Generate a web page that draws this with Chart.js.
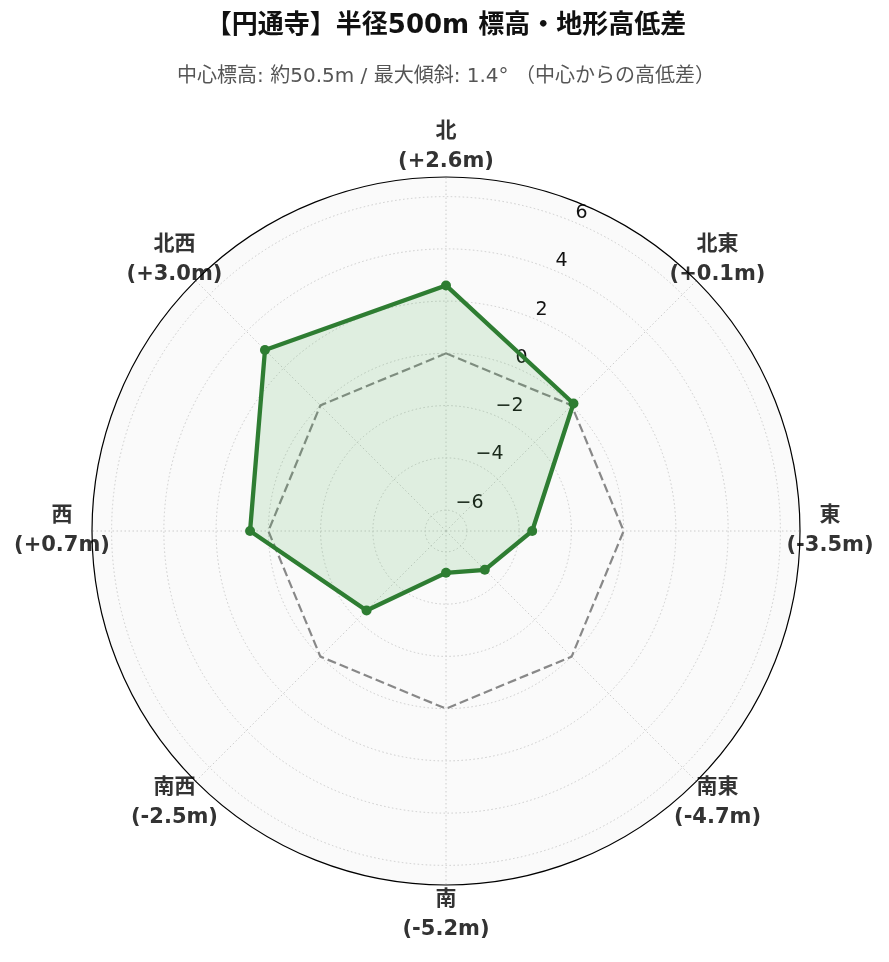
<!DOCTYPE html>
<html lang="ja">
<head>
<meta charset="utf-8">
<title>円通寺 標高・地形高低差</title>
<script src="https://cdn.jsdelivr.net/npm/chart.js@4.4.1/dist/chart.umd.min.js"></script>
<style>
  html, body { margin: 0; padding: 0; background: #fff; }
  #chart { display: block; }
</style>
</head>
<body>
<canvas id="chart" width="889" height="962"></canvas>
<script>
// 方位ごとの高低差（中心からの差, m）
const directions = ['北', '北東', '東', '南東', '南', '南西', '西', '北西'];
const elevationDiff = [2.6, 0.1, -3.5, -4.7, -5.2, -2.5, 0.7, 3.0];
const zeroLine = [0, 0, 0, 0, 0, 0, 0, 0];
const radialTicks = [-6, -4, -2, 0, 2, 4, 6];
const R_MIN = -6.8;
const R_MAX = 6.75;

const FONT_FAMILY = "'DejaVu Sans', 'Noto Sans CJK JP', sans-serif";
const TICK_ANGLE = 22.5 * Math.PI / 180;

// Format "(+2.6m)" style label from a value
function diffLabel(v) {
  return '(' + (v >= 0 ? '+' : '-') + Math.abs(v).toFixed(1) + 'm)';
}

const labels = directions.map((d, i) => [d, diffLabel(elevationDiff[i])]);

/**
 * Light grey disc behind the polar grid
 */
const polarBackground = {
  id: 'polarBackground',
  beforeDraw(chart) {
    const s = chart.scales.r;
    const ctx = chart.ctx;
    ctx.save();
    ctx.fillStyle = '#fafafa';
    ctx.beginPath();
    ctx.arc(s.xCenter, s.yCenter, s.drawingArea, 0, Math.PI * 2);
    ctx.fill();
    ctx.restore();
  }
};

/**
 * Radial tick labels (along 22.5deg) and direction labels
 */
const polarLabels = {
  id: 'polarLabels',
  beforeDatasetsDraw(chart) {
    const s = chart.scales.r;
    const ctx = chart.ctx;
    ctx.save();

    // radial ticks
    ctx.font = '19px ' + FONT_FAMILY;
    ctx.fillStyle = '#111';
    ctx.textAlign = 'left';
    ctx.textBaseline = 'alphabetic';
    radialTicks.forEach(v => {
      const d = s.getDistanceFromCenterForValue(v);
      const x = s.xCenter + d * Math.sin(TICK_ANGLE) + 1.5;
      const y = s.yCenter - d * Math.cos(TICK_ANGLE) - 4;
      const txt = v < 0 ? '\u2212' + Math.abs(v) : String(v);
      ctx.fillText(txt, x, y);
    });

    // direction labels, centred on a ring outside the plot
    ctx.font = 'bold 21px ' + FONT_FAMILY;
    ctx.fillStyle = '#333';
    ctx.textAlign = 'center';
    ctx.textBaseline = 'middle';
    labels.forEach((lines, i) => {
      const p = s.getPointPosition(i, s.drawingArea + 30);
      ctx.fillText(lines[0], p.x, p.y - 15);
      ctx.fillText(lines[1], p.x, p.y + 15);
    });
    ctx.restore();
  },
  afterDatasetsDraw(chart) {
    // outer spine
    const s = chart.scales.r;
    const ctx = chart.ctx;
    ctx.save();
    ctx.strokeStyle = '#000';
    ctx.lineWidth = 1.2;
    ctx.beginPath();
    ctx.arc(s.xCenter, s.yCenter, s.drawingArea, 0, Math.PI * 2);
    ctx.stroke();
    ctx.restore();
  }
};

const ctx = document.getElementById('chart');

new Chart(ctx, {
  type: 'radar',
  data: {
    labels: labels,
    datasets: [
      {
        label: '高低差',
        data: elevationDiff,
        borderColor: '#2e7d32',
        backgroundColor: 'rgba(76, 175, 80, 0.15)',
        borderWidth: 4.3,
        pointRadius: 5,
        pointBackgroundColor: '#2e7d32',
        pointBorderColor: '#2e7d32',
        pointBorderWidth: 0,
        fill: 'start'
      },
      {
        label: '基準 (0m)',
        data: zeroLine,
        borderColor: '#888888',
        borderWidth: 2.2,
        borderDash: [9, 4],
        pointRadius: 0,
        fill: false
      }
    ]
  },
  options: {
    responsive: false,
    devicePixelRatio: 1,
    animation: false,
    layout: {
      padding: { left: 91, right: 88, top: 0, bottom: 76 }
    },
    scales: {
      r: {
        min: R_MIN,
        max: R_MAX,
        afterBuildTicks: scale => {
          scale.ticks = radialTicks.map(v => ({ value: v }));
        },
        ticks: { display: false },
        grid: {
          circular: true,
          color: '#cccccc',
          lineWidth: 1
        },
        border: { dash: [1.5, 2.5] },
        angleLines: {
          color: '#cccccc',
          lineWidth: 1,
          borderDash: [1.5, 2.5]
        },
        pointLabels: { display: false }
      }
    },
    plugins: {
      legend: { display: false },
      tooltip: { enabled: false },
      title: {
        display: true,
        text: '【円通寺】半径500m 標高・地形高低差',
        color: '#111',
        font: { family: FONT_FAMILY, size: 26, weight: 'bold' },
        padding: { top: 11, bottom: 0 }
      },
      subtitle: {
        display: true,
        text: '中心標高: 約50.5m / 最大傾斜: 1.4° （中心からの高低差）',
        color: '#555',
        font: { family: FONT_FAMILY, size: 20 },
        padding: { top: 23, bottom: 87 }
      }
    }
  },
  plugins: [polarBackground, polarLabels]
});
</script>
</body>
</html>
